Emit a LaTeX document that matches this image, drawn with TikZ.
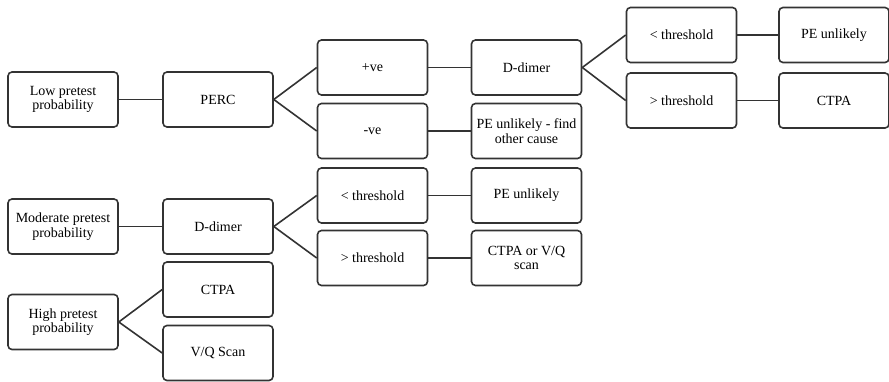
\documentclass[tikz,border=0pt]{standalone}
\usepackage{fontspec}
\setmainfont{Liberation Serif}
\usepackage{xcolor}
\definecolor{edge}{HTML}{333333}

\begin{document}
\begin{tikzpicture}[x=1pt,y=-1pt,
        box/.style={draw=edge, line width=1.6pt, rounded corners=4pt,
            minimum width=110pt, minimum height=55pt, align=center,
            font=\fontsize{14}{14.5}\selectfont},
        link/.style={draw=edge, line width=1.6pt}]
        \useasboundingbox (0,0) rectangle (889,381);

        % Low pretest probability
        \node[box] (low) at (63,99.5) {Low pretest\\probability};
        \node[box] (perc) at (218,99.5) {PERC};
        \node[box] (pos) at (372.5,67.5) {+ve};
        \node[box] (neg) at (372.5,131) {-ve};
        \node[box] (ddlow) at (526.5,67.5) {D-dimer};
        \node[box] (cause) at (526.5,131) {PE unlikely - find\\other cause};
        \node[box] (ltlow) at (681.5,35) {< threshold};
        \node[box] (gtlow) at (681.5,100.5) {> threshold};
        \node[box] (unllow) at (834,35) {PE unlikely};
        \node[box] (ctpalow) at (834,100.5) {CTPA};

        % Moderate pretest probability
        \node[box] (mod) at (63,226.5) {Moderate pretest\\probability};
        \node[box] (ddmod) at (218,226.5) {D-dimer};
        \node[box] (ltmod) at (372.5,195.5) {< threshold};
        \node[box] (gtmod) at (372.5,258) {> threshold};
        \node[box] (unlmod) at (526.5,195.5) {PE unlikely};
        \node[box] (ctpamod) at (526.5,258) {CTPA or V/Q\\scan};

        % High pretest probability
        \node[box] (high) at (63,322) {High pretest\\probability};
        \node[box] (ctpahigh) at (218,289.5) {CTPA};
        \node[box] (vq) at (218,353) {V/Q Scan};

        % Liens
        \draw[link] (low.east) -- (perc.west);
        \draw[link] (perc.east) -- (pos.west);
        \draw[link] (perc.east) -- (neg.west);
        \draw[link] (pos.east) -- (ddlow.west);
        \draw[link] (neg.east) -- (cause.west);
        \draw[link] (ddlow.east) -- (ltlow.west);
        \draw[link] (ddlow.east) -- (gtlow.west);
        \draw[link] (ltlow.east) -- (unllow.west);
        \draw[link] (gtlow.east) -- (ctpalow.west);
        \draw[link] (mod.east) -- (ddmod.west);
        \draw[link] (ddmod.east) -- (ltmod.west);
        \draw[link] (ddmod.east) -- (gtmod.west);
        \draw[link] (ltmod.east) -- (unlmod.west);
        \draw[link] (gtmod.east) -- (ctpamod.west);
        \draw[link] (high.east) -- (ctpahigh.west);
        \draw[link] (high.east) -- (vq.west);
\end{tikzpicture}
\end{document}
